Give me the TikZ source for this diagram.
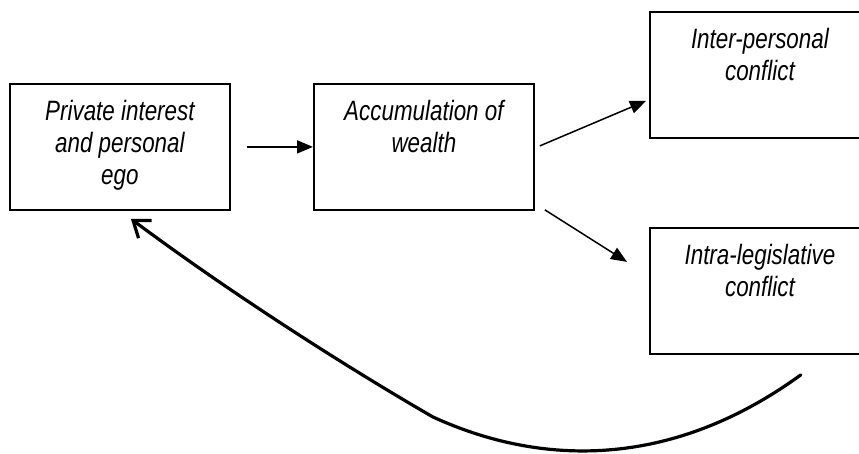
\documentclass[tikz,border=0pt]{standalone}
\usepackage{fontspec}
\newfontfamily\boxfont{Liberation Sans}[FakeStretch=0.8]
\usetikzlibrary{arrows.meta}
\newcommand\boxtext[1]{\parbox[c][126pt][t]{214pt}{\centering\boxfont\itshape\fontsize{28}{32}\selectfont\rule{0pt}{37pt}#1}}
\begin{document}
\begin{tikzpicture}[x=1pt,y=-1pt,
  box/.style={draw, line width=1.8pt, minimum width=220pt, minimum height=126pt, inner sep=0pt, anchor=north west},
  flow/.style={line width=1.5pt, -{Triangle[length=16pt,width=13pt]}},
  back/.style={line width=3.2pt, line cap=round, -{Straight Barb[length=15pt,width=22pt]}}]
\useasboundingbox (0,0) rectangle (859,453);
\clip (0,0) rectangle (859,453);
\node[box] (b1) at (9,83) {\boxtext{Private interest\\ and personal\\ ego}};
\node[box] (b2) at (313,83) {\boxtext{Accumulation of\\ wealth}};
\node[box] (b3) at (649,11) {\boxtext{Inter-personal\\ conflict}};
\node[box] (b4) at (649,227) {\boxtext{Intra-legislative\\ conflict}};
\draw[flow] ([xshift=16pt]b1.east) -- (b2.west);
\draw[flow] ([shift={(5,-1)}]b2.east) -- ([shift={(-3,26)}]b3.west);
\draw[flow] ([shift={(10,-1)}]b2.south east) -- ([shift={(-22,-29)}]b4.west);
\draw[back] ([shift={(41,20)}]b4.south) .. controls (670,470) and (540,466) .. (433,417) .. controls (360,375) and (240,300) .. ([shift={(11,8)}]b1.south);
\end{tikzpicture}
\end{document}
